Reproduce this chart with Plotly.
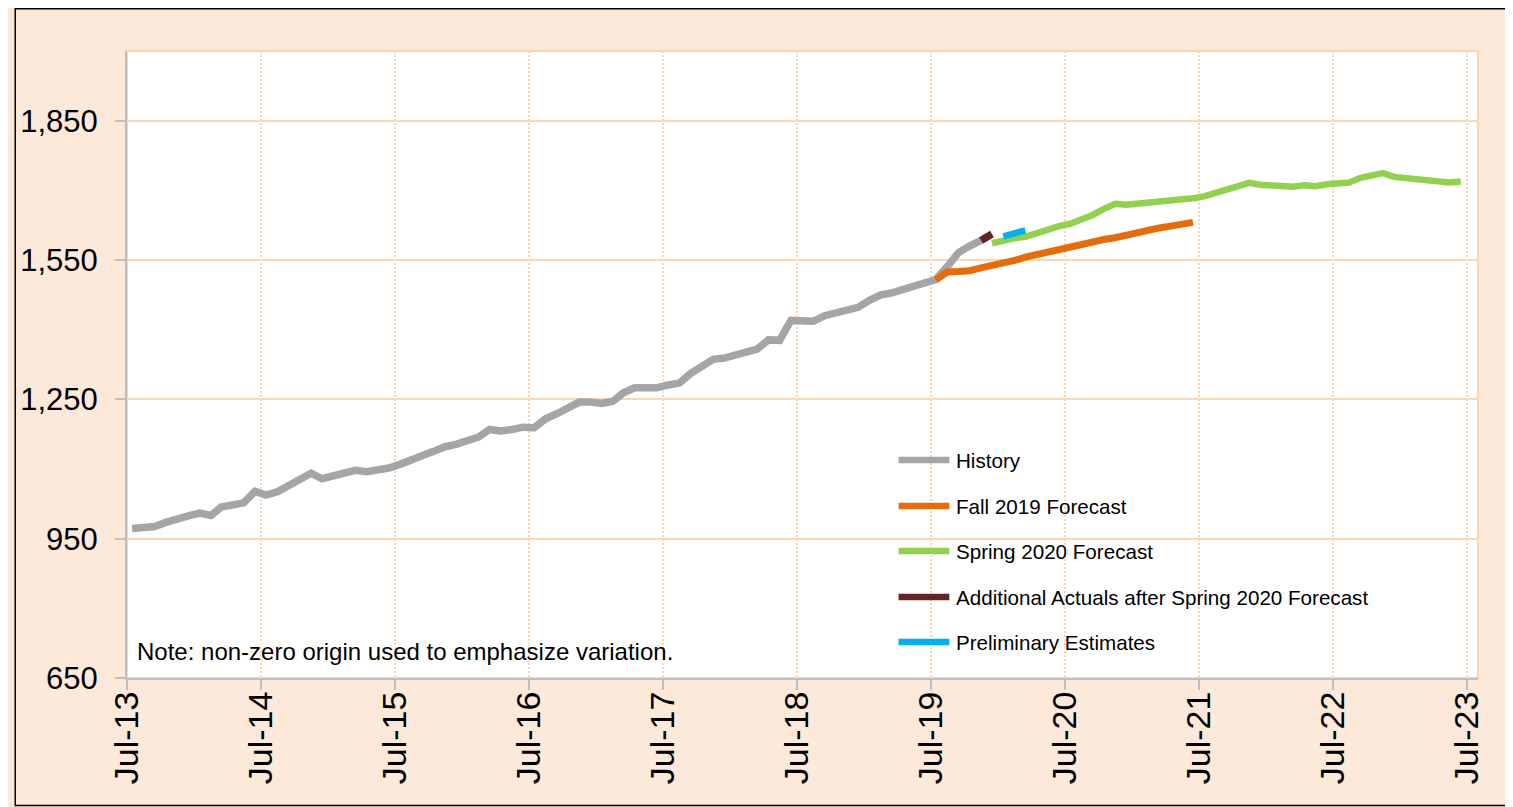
import pandas as pd
import plotly.graph_objects as go

# ---------------- data (monthly) ----------------
history_start = "2013-07"
history = [972, 975, 976, 985, 994, 999, 1005, 1000, 1018, 1022, 1027, 1052,
           1044, 1051, 1065, 1078, 1091, 1079, 1084, 1089, 1097, 1094, 1096, 1102,
           1110, 1121, 1129, 1138, 1148, 1153, 1162, 1169, 1185, 1182, 1185, 1190,
           1189, 1208, 1219, 1230, 1244, 1244, 1241, 1246, 1264, 1275, 1275, 1275,
           1281, 1285, 1306, 1322, 1336, 1339, 1347, 1352, 1358, 1378, 1377, 1420,
           1419, 1418, 1430, 1435, 1440, 1448, 1463, 1475, 1479, 1486, 1491, 1500,
           1508, 1536, 1566, 1580, 1592]

fall2019_start = "2019-07"
fall2019 = [1507, 1524, 1525, 1527, 1533, 1537, 1542, 1549, 1556, 1562, 1567, 1573,
            1578, 1583, 1589, 1594, 1598, 1604, 1608, 1613, 1619, 1623, 1628, 1631]

spring2020_start = "2019-12"
spring2020 = [1586, 1592, 1597, 1600, 1608, 1617, 1623, 1628, 1636, 1647, 1660, 1671,
              1669, 1671, 1673, 1675, 1677, 1678, 1683, 1687, 1694, 1703, 1710, 1716,
              1712, 1711, 1709, 1708, 1711, 1709, 1713, 1715, 1717, 1727, 1732, 1737,
              1729, 1726, 1723, 1720, 1719, 1717, 1719]

additional_start = "2019-11"
additional = [1592, 1606]

prelim_start = "2020-01"
prelim = [1601, 1608, 1614]

series_names = ["History", "Fall 2019 Forecast", "Spring 2020 Forecast",
                "Additional Actuals after Spring 2020 Forecast", "Preliminary Estimates"]
y_ticks = [650, 950, 1250, 1550, 1850]
note_text = "Note: non-zero origin used to emphasize variation."

# ---------------- styling ----------------
colors = ["#A5A5A5", "#E46C0A", "#92D050", "#632523", "#00B0F0"]
widths = [7.5, 7, 6.5, 7.5, 6.5]
PEACH_BG = "#FDE9D9"
GRID = "#FCD5B4"
AXIS = "#BFBFBF"
FONT = "Liberation Sans, Arial, sans-serif"

# the page body adds a margin; work in page pixels and shift
OFF_X, OFF_Y = 10, 8
W, H = 1500, 799
L, R, T, B = 123 - OFF_X, 1480 - OFF_X, 51 - OFF_Y, 678 - OFF_Y   # plot area, figure px


def months(start, n):
    # points sit in the middle of each month
    return pd.date_range(start + "-01", periods=n, freq="MS") + pd.Timedelta(days=14)


def px2x(page_px):
    return (page_px - OFF_X - L) / (R - L)


def py2y(page_py):
    return (B - (page_py - OFF_Y)) / (B - T)


fig = go.Figure()
for name, start, vals, c, w in zip(
        series_names,
        [history_start, fall2019_start, spring2020_start, additional_start, prelim_start],
        [history, fall2019, spring2020, additional, prelim],
        colors, widths):
    fig.add_trace(go.Scatter(x=months(start, len(vals)), y=vals, mode="lines", name=name,
                             line=dict(color=c, width=w), showlegend=False))

shapes = []
# black frame at the figure edge
shapes.append(dict(type="rect", xref="paper", yref="paper", layer="above",
                   x0=(0.75 - L) / (R - L), x1=(W - 0.75 - L) / (R - L),
                   y0=(B - 797.5) / (B - T), y1=(B - 0.75) / (B - T),
                   line=dict(color="#000000", width=1.5)))
# plot-area border (top/right peach)
shapes.append(dict(type="rect", xref="paper", yref="paper", layer="below",
                   x0=0, x1=1, y0=0, y1=1, line=dict(color=GRID, width=2)))
# legend white box
shapes.append(dict(type="rect", xref="paper", yref="paper", layer="between",
                   x0=px2x(812), x1=px2x(1455), y0=py2y(667), y1=py2y(437),
                   fillcolor="white", line=dict(width=0)))

annotations = []
legend_y = [460, 506, 551, 597, 642]
for name, c, ly in zip(series_names, colors, legend_y):
    shapes.append(dict(type="line", xref="paper", yref="paper", layer="above",
                       x0=px2x(898), x1=px2x(949), y0=py2y(ly), y1=py2y(ly),
                       line=dict(color=c, width=6.5)))
    annotations.append(dict(xref="paper", yref="paper", x=px2x(954), y=py2y(ly),
                            xanchor="left", yanchor="middle", showarrow=False, text=name,
                            font=dict(family=FONT, size=20.6, color="#000000")))

annotations.append(dict(xref="paper", yref="paper", x=px2x(131), y=py2y(651),
                        xanchor="left", yanchor="middle", showarrow=False, text=note_text,
                        font=dict(family=FONT, size=24, color="#000000")))

fig.update_layout(
    width=W, height=H,
    margin=dict(l=L, r=W - R, t=T, b=H - B, pad=0),
    paper_bgcolor=PEACH_BG, plot_bgcolor="white",
    font=dict(family=FONT, color="#000000"),
    shapes=shapes, annotations=annotations,
    showlegend=False,
)
fig.update_xaxes(
    type="date", range=["2013-07-01", "2023-08-01"],
    tick0="2013-07-01", dtick="M12", tickformat="%b-%y", tickangle=-90,
    tickfont=dict(family=FONT, size=34, color="#000000"),
    ticks="outside", ticklen=10, tickwidth=1.5, tickcolor=AXIS,
    showline=True, linecolor=AXIS, linewidth=2,
    showgrid=True, gridcolor=GRID, gridwidth=2, griddash="2px,2px",
    zeroline=False, ticklabelstandoff=-12,
)
fig.update_yaxes(
    range=[650, 2000], tickvals=y_ticks, tickformat=",",
    tickfont=dict(family=FONT, size=31, color="#000000"),
    ticks="outside", ticklen=10, tickwidth=1.5, tickcolor=AXIS,
    showline=True, linecolor=AXIS, linewidth=2,
    showgrid=True, gridcolor=GRID, gridwidth=2,
    zeroline=False, ticklabelstandoff=11,
)

fig.write_html("out.html")
